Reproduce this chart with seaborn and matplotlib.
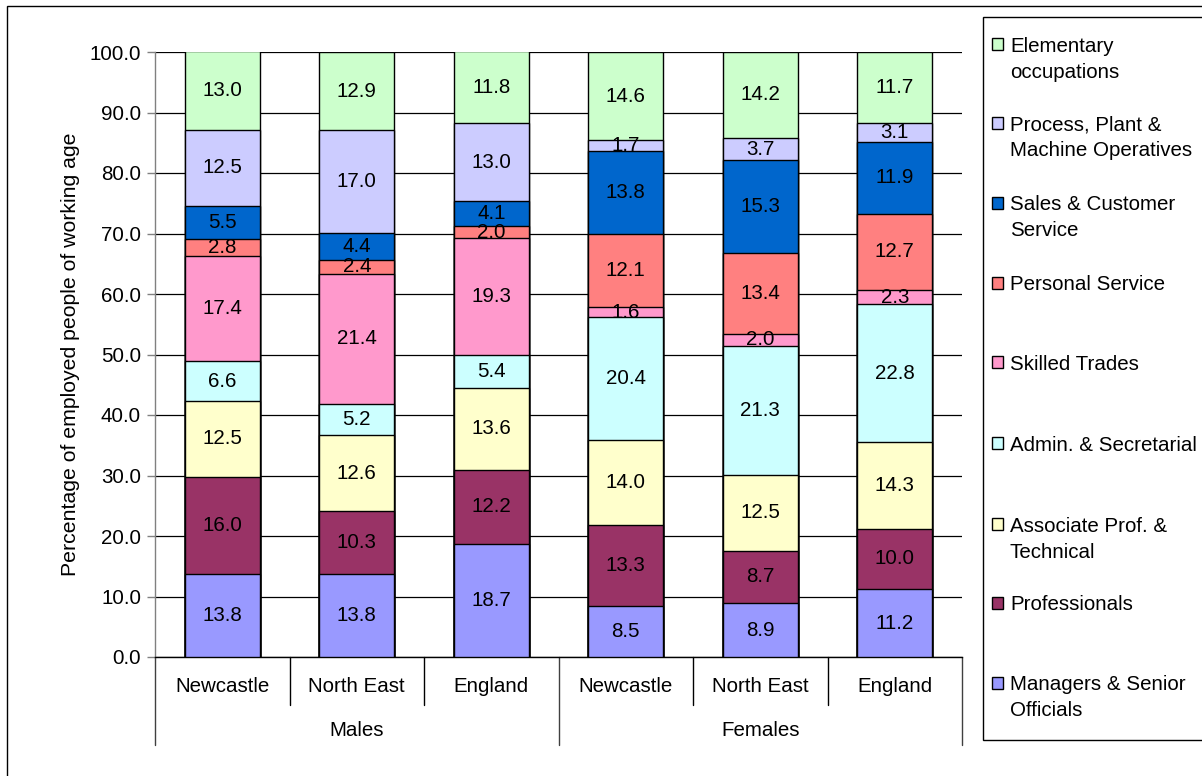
import numpy as np
import pandas as pd
import matplotlib
matplotlib.use("Agg")
import matplotlib.pyplot as plt
from matplotlib.patches import Rectangle
import seaborn as sns

# ---------------- data ----------------
groups = ["Males", "Males", "Males", "Females", "Females", "Females"]
areas = ["Newcastle", "North East", "England", "Newcastle", "North East", "England"]
group_names = ["Males", "Females"]

layers = ["Managers & Senior Officials", "Professionals", "Associate Prof. & Technical",
          "Admin. & Secretarial", "Skilled Trades", "Personal Service",
          "Sales & Customer Service", "Process, Plant & Machine Operatives",
          "Elementary occupations"]
legend_labels = ["Managers & Senior\nOfficials", "Professionals", "Associate Prof. &\nTechnical",
                 "Admin. & Secretarial", "Skilled Trades", "Personal Service",
                 "Sales & Customer\nService", "Process, Plant &\nMachine Operatives",
                 "Elementary\noccupations"]
colors = ["#9999FF", "#993366", "#FFFFCC", "#CCFFFF", "#FF99CC", "#FF8080",
          "#0066CC", "#CCCCFF", "#CCFFCC"]

managers = [13.8, 13.8, 18.7, 8.5, 8.9, 11.2]
professionals = [16.0, 10.3, 12.2, 13.3, 8.7, 10.0]
associate = [12.5, 12.6, 13.6, 14.0, 12.5, 14.3]
admin = [6.6, 5.2, 5.4, 20.4, 21.3, 22.8]
skilled = [17.4, 21.4, 19.3, 1.6, 2.0, 2.3]
personal = [2.8, 2.4, 2.0, 12.1, 13.4, 12.7]
sales = [5.5, 4.4, 4.1, 13.8, 15.3, 11.9]
process = [12.5, 17.0, 13.0, 1.7, 3.7, 3.1]
elementary = [13.0, 12.9, 11.8, 14.6, 14.2, 11.7]

values = np.array([managers, professionals, associate, admin, skilled,
                   personal, sales, process, elementary])

# ---------------- style ----------------
sns.set_style("white")
plt.rcParams["font.family"] = ["Liberation Sans", "DejaVu Sans"]
plt.rcParams["text.color"] = "black"
plt.rcParams["axes.labelcolor"] = "black"
plt.rcParams["xtick.color"] = "black"
plt.rcParams["ytick.color"] = "black"
FS = 14.8

W, H = 1202, 776
fig = plt.figure(figsize=(W / 100, H / 100), dpi=100)
L, R, T, B = 155, 962, 52, 657
ax = fig.add_axes([L / W, 1 - B / H, (R - L) / W, (B - T) / H])

keys = [f"{g}-{a}" for g, a in zip(groups, areas)]
cum = np.cumsum(values, axis=0)

# draw stacked bars from top layer down (each overlays the lower part)
for k in range(len(layers) - 1, -1, -1):
    df = pd.DataFrame({"key": keys, "top": cum[k]})
    sns.barplot(data=df, x="key", y="top", order=keys, color=colors[k],
                saturation=1, width=0.56, edgecolor="black", linewidth=1.0,
                ax=ax, zorder=3)

# value labels
for k in range(len(layers)):
    for i in range(len(keys)):
        v = values[k, i]
        ax.text(i, cum[k, i] - v / 2, f"{v:.1f}", ha="center", va="center",
                fontsize=FS, color="black", zorder=5)

ax.set_ylim(0, 100)
ax.set_xlim(-0.5, len(keys) - 0.5)
ax.set_yticks(np.arange(0, 101, 10))
ax.set_yticklabels([f"{t:.1f}" for t in np.arange(0, 101, 10)], fontsize=FS)
ax.tick_params(axis="y", which="major", left=True, length=6, width=1, color="#808080",
               labelcolor="black", pad=4)
ax.set_xticks([])
ax.set_xlabel("")
ax.set_ylabel("Percentage of employed people of working age", fontsize=15.3, labelpad=7,
              color="black")
ax.yaxis.grid(True, color="black", linewidth=0.9, zorder=0)
ax.set_axisbelow(True)
for s in ["top", "right"]:
    ax.spines[s].set_visible(False)
ax.spines["left"].set_color("#808080")
ax.spines["bottom"].set_color("black")
ax.spines["left"].set_linewidth(1.0)
ax.spines["bottom"].set_linewidth(1.0)

# multi-level category axis
tr = ax.get_xaxis_transform()
ah = B - T
for i, a in enumerate(areas):
    ax.text(i, -30 / ah, a, transform=tr, ha="center", va="center", fontsize=FS)
for xb in [0.5, 1.5, 3.5, 4.5]:
    ax.plot([xb, xb], [0, -48 / ah], transform=tr, color="black", lw=1, clip_on=False)
for xb in [-0.5, 2.5, 5.5]:
    ax.plot([xb, xb], [0, -88 / ah], transform=tr, color="#404040", lw=1, clip_on=False)
for gi, gname in enumerate(group_names):
    ax.text(1 + 3 * gi, -73 / ah, gname, transform=tr, ha="center", va="center", fontsize=FS)

# outer chart border
fig.add_artist(Rectangle((7 / W, -0.05), 1.1, 1.05 - 6 / H, transform=fig.transFigure,
                         fill=False, edgecolor="black", lw=1.0))

# legend box (manual, to mirror the reference layout)
fig.add_artist(Rectangle((983 / W, 1 - 740 / H), 0.2, (740 - 17) / H, transform=fig.transFigure,
                         facecolor="white", edgecolor="black", lw=1.0))
entry_y = [683, 603, 524, 443, 362, 283, 203, 123, 44]
LINE_PX = 26
for k in range(len(layers)):
    y = entry_y[k]
    nlines = legend_labels[k].count("\n") + 1
    fig.add_artist(Rectangle((992 / W, 1 - (y + 6) / H), 11 / W, 12 / H,
                             transform=fig.transFigure, facecolor=colors[k],
                             edgecolor="black", lw=1.0))
    fig.text(1010 / W, 1 - (y + 7.5) / H, legend_labels[k].split("\n")[0], fontsize=FS,
             ha="left", va="baseline")
    if nlines > 1:
        fig.text(1010 / W, 1 - (y + 7.5 + LINE_PX) / H, legend_labels[k].split("\n")[1],
                 fontsize=FS, ha="left", va="baseline")

fig.savefig("out.png", dpi=100, facecolor="white")
